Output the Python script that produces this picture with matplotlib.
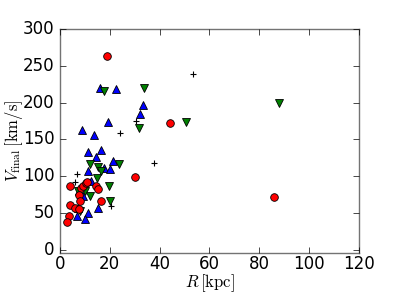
import matplotlib
matplotlib.use("Agg")
import matplotlib.pyplot as plt

plt.style.use("classic")
plt.rcParams["mathtext.fontset"] = "cm"

# red circles
r_red = [18.8, 44.0, 30.0, 86.0, 4.1, 8.4, 9.3, 10.3, 11.0, 14.4, 15.3, 7.6, 16.7, 8.1, 4.0, 6.0, 7.6, 3.7, 2.9]
v_red = [263, 172, 99, 72, 86, 84, 87, 90, 92, 86, 83, 74, 66, 66, 61, 56, 55, 46, 37]

# blue upward triangles
r_blue = [16.1, 22.4, 33.5, 32.1, 19.2, 8.9, 13.5, 11.1, 16.7, 14.4, 21.3, 11.3, 17.7, 20.1, 12.3, 7.7, 9.3, 7.3, 11.1, 6.9, 10.0, 15.3]
v_blue = [220, 219, 196, 184, 174, 163, 156, 133, 135, 126, 121, 107, 111, 110, 93, 80, 73, 56, 50, 46, 42, 57]

# green downward triangles
r_green = [17.7, 33.7, 31.6, 50.5, 87.7, 12.1, 15.3, 23.6, 16.7, 14.7, 19.7, 7.1, 10.0, 12.0, 20.3, 8.0]
v_green = [215, 220, 165, 174, 200, 117, 112, 117, 107, 98, 86, 80, 80, 73, 66, 52]

# black plus signs
r_plus = [53.3, 30.7, 24.0, 37.7, 6.9, 6.0, 7.3, 20.7]
v_plus = [239, 175, 159, 118, 103, 92, 75, 59]

fig = plt.figure(figsize=(3.99, 2.99), dpi=100, facecolor="white")
ax = fig.add_axes([0.15, 0.153, 0.75, 0.75])

ax.plot(r_plus, v_plus, "k+", ms=5, mew=0.8)
ax.plot(r_blue, v_blue, "^", color="blue", mec="black", ms=5.5, mew=0.6)
ax.plot(r_green, v_green, "v", color="green", mec="black", ms=5.5, mew=0.6)
ax.plot(r_red, v_red, "o", color="red", mec="black", ms=5.5, mew=0.6)

ax.set_xlim(0, 120)
ax.set_ylim(-5, 300)
ax.set_xlabel(r"$R\,[\mathrm{kpc}]$", fontsize=12, labelpad=0)
ax.set_ylabel(r"$V_{\mathrm{final}}\,[\mathrm{km/s}]$", fontsize=12, labelpad=-2)
ax.tick_params(labelsize=12)
ax.tick_params(axis="x", pad=1)
for s in ax.spines.values():
    s.set_color("0.45")

fig.savefig("out.png", dpi=100, facecolor="white")
